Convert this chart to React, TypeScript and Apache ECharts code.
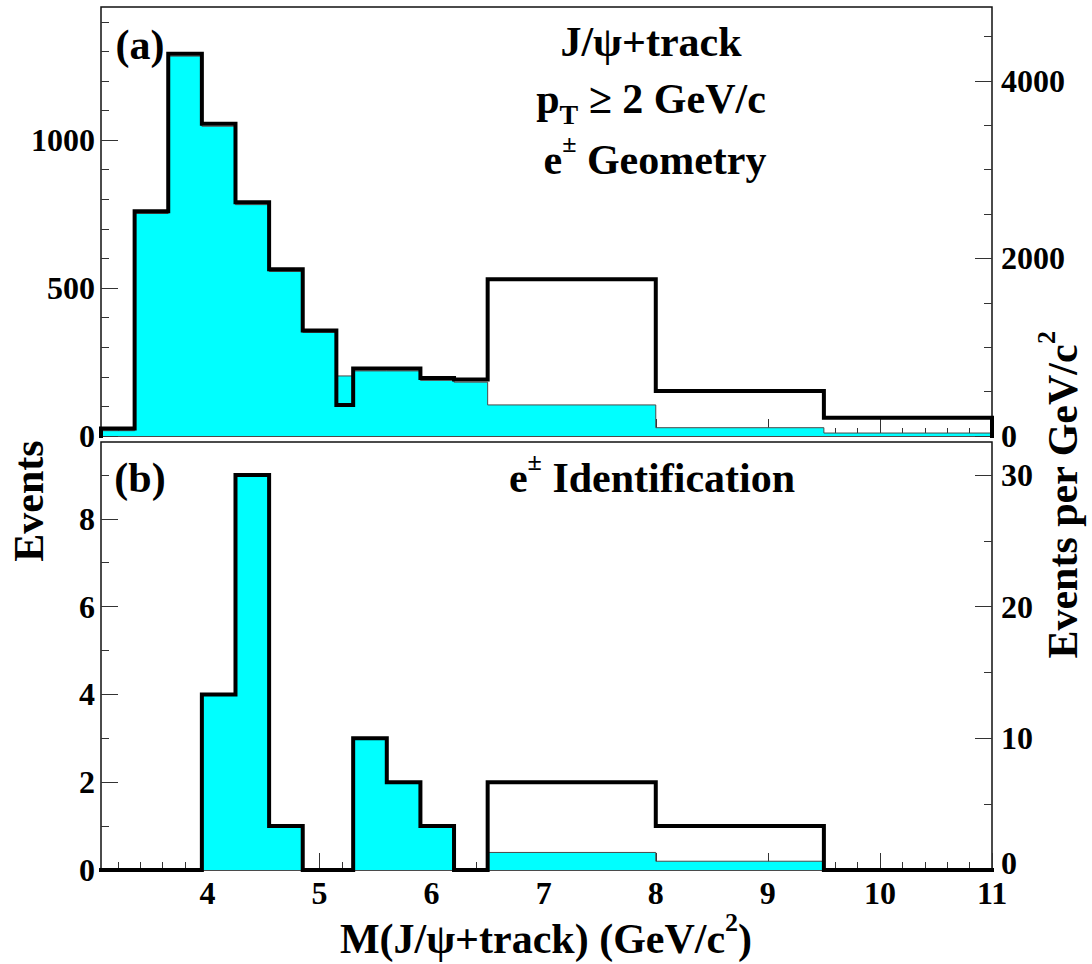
import React, { useEffect, useRef } from 'react';
import * as echarts from 'echarts';

// Bin edges of the J/psi+track invariant mass histograms (GeV/c^2)
const binEdges = [3.05, 3.35, 3.65, 3.95, 4.25, 4.55, 4.85, 5.15, 5.3, 5.6, 5.9, 6.2, 6.5, 8.0, 9.5, 11.0];

// (a) all J/psi+track candidates with pT >= 2 GeV/c (outline) and those inside e+- geometry (filled)
const trackEvents = [25, 760, 1292, 1055, 790, 564, 357, 105, 228, 228, 196, 191, 530, 152, 62];
const geometryEvents = [18, 752, 1284, 1047, 782, 556, 350, 203, 220, 220, 188, 182, 105, 28, 10];

// (b) after e+- identification
const identifiedOutline = [0, 0, 0, 4, 9, 1, 0, 0, 3, 2, 1, 0, 2, 1, 0];
const identifiedFill = [0, 0, 0, 4, 9, 1, 0, 0, 3, 2, 1, 0, 0.4, 0.2, 0];

// Axis ticks
const massTicks = [4, 5, 6, 7, 8, 9, 10, 11];
const topEventTicks = [0, 500, 1000];
const topDensityTicks = [0, 2000, 4000];
const bottomEventTicks = [0, 2, 4, 6, 8];
const bottomDensityTicks = [0, 10, 20, 30];

const narrowBinWidth = 0.3; // GeV/c^2, converts events to events per GeV/c^2
const massMin = 3.05;
const massMax = 11;
const topMax = 1450;
const bottomMax = 9.75;

const FONT = '"Liberation Serif", "Times New Roman", Times, serif';

function range(start: number, stop: number, step: number, skipEvery: number) {
  const out: number[] = [];
  for (let v = start; v <= stop + 1e-9; v += step) {
    const r = Math.round(v * 100) / 100;
    const q = r / skipEvery;
    if (Math.abs(q - Math.round(q)) > 1e-6) out.push(r);
  }
  return out;
}

const massMinor = range(3.2, 10.8, 0.2, 1);
const topEventMinor = range(100, 1400, 100, 500);
const topDensityMinor = range(500, 4500, 500, 2000);
const bottomEventMinor = range(1, 9, 1, 2);
const bottomDensityMinor = range(5, 25, 5, 10);

function stepPoints(edges: number[], vals: number[]) {
  const pts: number[][] = [[edges[0], 0]];
  vals.forEach((v, i) => {
    pts.push([edges[i], v], [edges[i + 1], v]);
  });
  pts.push([edges[edges.length - 1], 0]);
  return pts;
}

const labelStyle = {
  fontFamily: FONT,
  fontWeight: 'bold' as const,
  fontSize: 32,
  color: '#000',
};

function xAxisDef(gridIndex: number, ticks: number[], len: number, labels: boolean) {
  return {
    type: 'value',
    gridIndex,
    min: massMin,
    max: massMax,
    position: 'bottom',
    axisLine: { show: false, onZero: false },
    splitLine: { show: false },
    axisTick: {
      show: true,
      inside: true,
      length: len,
      customValues: ticks,
      lineStyle: { color: '#333', width: 1 },
    },
    axisLabel: labels
      ? { show: true, customValues: ticks, margin: 7, formatter: (v: number) => String(v), ...labelStyle }
      : { show: false },
  };
}

function yAxisDef(
  gridIndex: number,
  max: number,
  side: 'left' | 'right',
  ticks: number[],
  len: number,
  labels: boolean,
  liftZero = false
) {
  return {
    type: 'value',
    gridIndex,
    min: 0,
    max,
    position: side,
    axisLine: { show: false },
    splitLine: { show: false },
    axisTick: {
      show: true,
      inside: true,
      length: len,
      customValues: ticks,
      lineStyle: { color: '#333', width: 1 },
    },
    axisLabel: labels
      ? {
          show: true,
          customValues: ticks,
          margin: side === 'left' ? 6 : 9,
          formatter: (v: number) => (liftZero && v === 0 ? '{z|0}' : String(v)),
          rich: { z: { ...labelStyle, padding: [0, 0, 14, 0] } },
          ...labelStyle,
        }
      : { show: false },
  };
}

function outlineSeries(xAxisIndex: number, yAxisIndex: number, vals: number[]) {
  return {
    type: 'line',
    xAxisIndex,
    yAxisIndex,
    data: stepPoints(binEdges, vals),
    showSymbol: false,
    symbol: 'none',
    clip: false,
    z: 5,
    lineStyle: { color: '#000', width: 4, join: 'miter', cap: 'square' },
  };
}

function fillSeries(xAxisIndex: number, yAxisIndex: number, vals: number[]) {
  return {
    type: 'line',
    xAxisIndex,
    yAxisIndex,
    data: stepPoints(binEdges, vals),
    showSymbol: false,
    symbol: 'none',
    z: 2,
    lineStyle: { color: '#4a4a4a', width: 1 },
    areaStyle: { color: '#00ffff', opacity: 1 },
  };
}

const big = { fontFamily: FONT, fontWeight: 'bold', fontSize: 42, fill: '#000', lineHeight: 40 };
const sup = { fontFamily: FONT, fontWeight: 'bold', fontSize: 26, fill: '#000', lineHeight: 22, verticalAlign: 'top', padding: [-10, 0, 0, 0] };
const sub = { fontFamily: FONT, fontWeight: 'bold', fontSize: 28, fill: '#000', lineHeight: 22, verticalAlign: 'bottom', padding: [0, 0, -9, 0] };

function richText(x: number, y: number, text: string, extra: Record<string, unknown> = {}) {
  return {
    type: 'text',
    x,
    y,
    z: 10,
    ...extra,
    style: {
      text,
      textAlign: 'center',
      textVerticalAlign: 'middle',
      rich: { b: big, sup, sub },
    },
  };
}

const option = {
  animation: false,
  backgroundColor: '#fff',
  grid: [
    { left: 101, top: 7, width: 891, height: 429, show: true, borderColor: '#111', borderWidth: 1.5, backgroundColor: 'transparent', outerBoundsMode: 'none' },
    { left: 101, top: 442, width: 891, height: 428, show: true, borderColor: '#111', borderWidth: 1.5, backgroundColor: 'transparent', outerBoundsMode: 'none' },
  ],
  xAxis: [
    xAxisDef(0, massTicks, 17, false),
    xAxisDef(0, massMinor, 8, false),
    xAxisDef(1, massTicks, 17, true),
    xAxisDef(1, massMinor, 8, false),
  ],
  yAxis: [
    yAxisDef(0, topMax, 'left', topEventTicks, 17, true),
    yAxisDef(0, topMax, 'left', topEventMinor, 8, false),
    yAxisDef(0, topMax / narrowBinWidth, 'right', topDensityTicks, 17, true),
    yAxisDef(0, topMax / narrowBinWidth, 'right', topDensityMinor, 8, false),
    yAxisDef(1, bottomMax, 'left', bottomEventTicks, 17, true),
    yAxisDef(1, bottomMax, 'left', bottomEventMinor, 8, false),
    yAxisDef(1, bottomMax / narrowBinWidth, 'right', bottomDensityTicks, 17, true, true),
    yAxisDef(1, bottomMax / narrowBinWidth, 'right', bottomDensityMinor, 8, false),
  ],
  series: [
    fillSeries(0, 0, geometryEvents),
    outlineSeries(0, 0, trackEvents),
    fillSeries(2, 4, identifiedFill),
    outlineSeries(2, 4, identifiedOutline),
  ],
  graphic: [
    richText(140, 45, '{b|(a)}'),
    richText(651, 42, '{b|J/ψ+track}'),
    richText(651, 99, '{b|p}{sub|T}{b| ≥ 2 GeV/c}'),
    richText(655, 160, '{b|e}{sup|±}{b| Geometry}'),
    richText(140, 478, '{b|(b)}'),
    richText(652, 478, '{b|e}{sup|±}{b| Identification}'),
    richText(29, 501, '{b|Events}', { rotation: Math.PI / 2 }),
    richText(1063, 495, '{b|Events per GeV/c}{sup|2}', { rotation: Math.PI / 2 }),
    richText(546, 939, '{b|M(J/ψ+track) (GeV/c}{sup|2}{b|)}'),
  ],
};

export default function App() {
  const ref = useRef<HTMLDivElement>(null);
  useEffect(() => {
    const chart = echarts.init(ref.current!, null, { renderer: 'svg' });
    chart.setOption(option as any);
    return () => chart.dispose();
  }, []);
  return (
    <div
      ref={ref}
      style={{ position: 'fixed', left: 0, top: 0, width: 1092, height: 964, background: '#fff' }}
    />
  );
}
